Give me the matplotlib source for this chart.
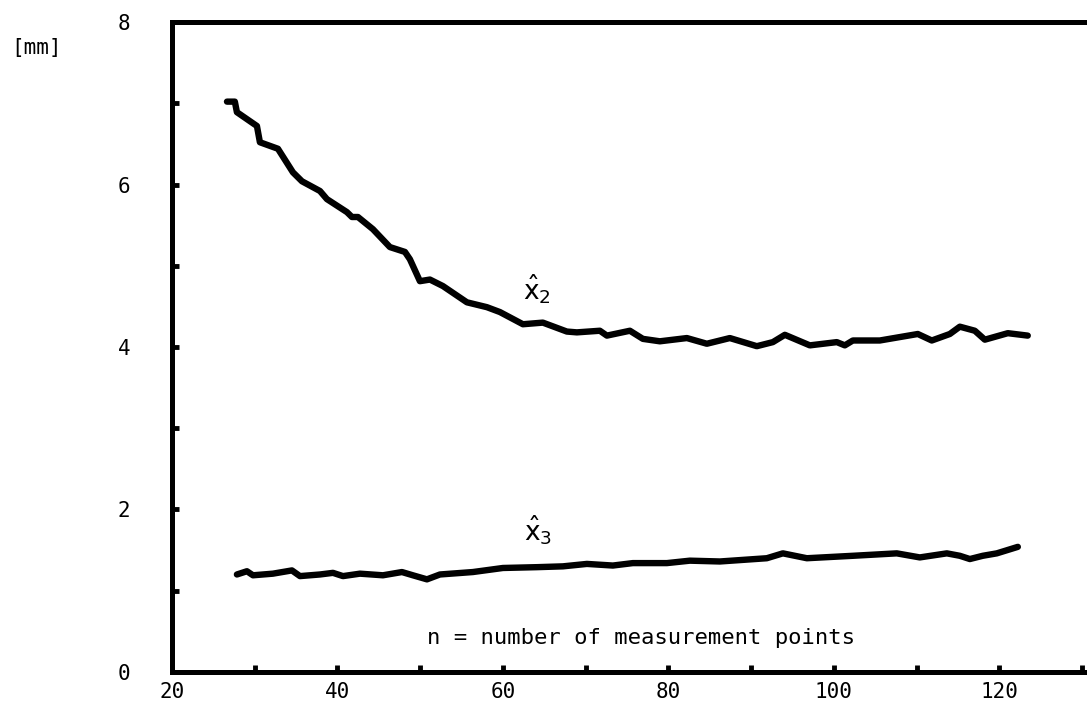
import numpy as np
import matplotlib
matplotlib.use("Agg")
import matplotlib.pyplot as plt
from matplotlib.ticker import MultipleLocator

# estimate of x2
n_x2 = [26.65, 27.6, 27.85, 30.27, 30.63, 32.81, 34.62, 35.71, 37.89, 38.73,
        41.15, 41.75, 42.48, 44.29, 46.34, 48.16, 48.76, 49.97, 51.18, 52.75,
        55.65, 58.07, 59.64, 62.42, 64.83, 67.73, 68.94, 71.72, 72.57, 75.35,
        76.92, 78.97, 82.24, 84.65, 87.43, 90.69, 92.63, 94.08, 97.1, 100.36,
        101.33, 102.3, 105.56, 110.15, 111.84, 114.02, 115.23, 117.04, 118.25,
        121.03, 123.44]
x2_hat = [7.02, 7.02, 6.89, 6.72, 6.52, 6.44, 6.15, 6.04, 5.92, 5.82,
          5.66, 5.60, 5.60, 5.45, 5.23, 5.17, 5.08, 4.81, 4.83, 4.75,
          4.55, 4.49, 4.43, 4.28, 4.30, 4.19, 4.18, 4.20, 4.14, 4.20,
          4.10, 4.07, 4.11, 4.04, 4.11, 4.01, 4.06, 4.15, 4.02, 4.06,
          4.02, 4.08, 4.08, 4.16, 4.08, 4.16, 4.25, 4.20, 4.09, 4.17,
          4.14]

# estimate of x3
n_x3 = [27.85, 29.06, 29.79, 32.2, 34.5, 35.47, 37.89, 39.46, 40.67, 42.72,
        45.5, 47.8, 49.12, 50.82, 52.39, 56.37, 60.0, 64.11, 67.25, 70.15,
        73.29, 75.71, 79.82, 82.6, 86.22, 91.9, 93.84, 96.74, 102.3, 107.61,
        110.39, 113.66, 115.23, 116.44, 118.0, 119.7, 122.24]
x3_hat = [1.20, 1.24, 1.19, 1.21, 1.25, 1.18, 1.20, 1.22, 1.18, 1.21,
          1.19, 1.23, 1.19, 1.14, 1.20, 1.23, 1.28, 1.29, 1.30, 1.33,
          1.31, 1.34, 1.34, 1.37, 1.36, 1.40, 1.46, 1.40, 1.43, 1.46,
          1.41, 1.46, 1.43, 1.39, 1.43, 1.46, 1.54]

font = "DejaVu Sans Mono"

fig = plt.figure(figsize=(10.87, 7.17), dpi=100)
ax = fig.add_axes([0.1582, 0.0628, 0.8418, 0.9065])

ax.plot(n_x2, x2_hat, color="black", lw=4.6, solid_capstyle="round", solid_joinstyle="round")
ax.plot(n_x3, x3_hat, color="black", lw=4.6, solid_capstyle="round", solid_joinstyle="round")

ax.set_xlim(20, 130.6)
ax.set_ylim(0, 8)

ax.spines["right"].set_visible(False)
for s in ["left", "bottom", "top"]:
    ax.spines[s].set_linewidth(3.6)

ax.xaxis.set_major_locator(MultipleLocator(20))
ax.xaxis.set_minor_locator(MultipleLocator(10))
ax.yaxis.set_major_locator(MultipleLocator(2))
ax.yaxis.set_minor_locator(MultipleLocator(1))
ax.tick_params(which="both", direction="in", length=5, width=3.5)
ax.tick_params(axis="x", which="major", pad=7, labelsize=15)
ax.tick_params(axis="y", which="major", pad=30, labelsize=15)
for lab in ax.get_xticklabels() + ax.get_yticklabels():
    lab.set_fontfamily(font)

# unit label, far left
ax.text(-0.1475, 7.68, "[mm]", transform=ax.get_yaxis_transform(), fontsize=15,
        family=font, ha="center", va="center")
ax.text(62.4, 4.71, r"$\hat{\mathrm{x}}_2$", fontsize=19, ha="left", va="center")
ax.text(62.6, 1.75, r"$\hat{\mathrm{x}}_3$", fontsize=19, ha="left", va="center")
ax.text(76.7, 0.42, "n = number of measurement points", fontsize=16,
        family=font, ha="center", va="center")

fig.savefig("out.png", dpi=100)
